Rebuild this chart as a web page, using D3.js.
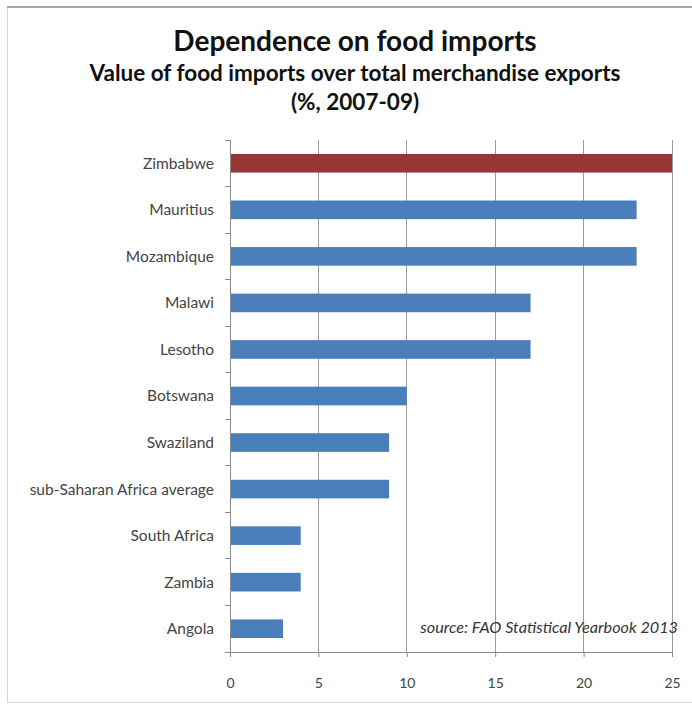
<!DOCTYPE html>
<html>
<head>
<meta charset="utf-8">
<script src="https://cdn.jsdelivr.net/npm/d3@7"></script>
<style>
  html, body { margin: 0; padding: 0; background: #fff; }
  svg { display: block; font-family: Lato, "Open Sans", sans-serif; }
</style>
</head>
<body>
<svg id="chart" width="692" height="707"></svg>
<script>
// Countries, top to bottom, with food imports as % of merchandise exports
const countries = ["Zimbabwe", "Mauritius", "Mozambique", "Malawi", "Lesotho", "Botswana",
  "Swaziland", "sub-Saharan Africa average", "South Africa", "Zambia", "Angola"];
const values = [25, 23, 23, 17, 17, 10, 9, 9, 4, 4, 3];
const highlighted = ["Zimbabwe"];
const xTicks = [0, 5, 10, 15, 20, 25];

const svg = d3.select("#chart");

// frame
svg.append("rect").attr("x", 7.5).attr("y", 6.5).attr("width", 690).attr("height", 696)
  .attr("fill", "#fff").attr("stroke", "#d4d4d4").attr("stroke-width", 1);
svg.append("line").attr("x1", 7).attr("x2", 692).attr("y1", 7).attr("y2", 7)
  .attr("stroke", "#a8a8a8").attr("stroke-width", 2);

// titles
svg.append("text").attr("x", 355).attr("y", 51).attr("text-anchor", "middle")
  .attr("font-size", 28).attr("font-weight", 700).attr("fill", "#111")
  .text("Dependence on food imports");
svg.append("text").attr("x", 355).attr("y", 81).attr("text-anchor", "middle")
  .attr("font-size", 22.5).attr("font-weight", 700).attr("fill", "#111")
  .text("Value of food imports over total merchandise exports");
svg.append("text").attr("x", 355).attr("y", 110).attr("text-anchor", "middle")
  .attr("font-size", 22.5).attr("font-weight", 700).attr("fill", "#111")
  .text("(%, 2007-09)");

const plotLeft = 230, plotRight = 672, plotTop = 140, plotBottom = 652;

const x = d3.scaleLinear().domain([0, 25]).range([plotLeft, plotRight]);
const y = d3.scaleBand().domain(countries).range([plotTop, plotBottom]).paddingInner(0.6).paddingOuter(0.3);

// vertical gridlines
svg.append("g").selectAll("line").data(xTicks.slice(1)).join("line")
  .attr("x1", d => x(d)).attr("x2", d => x(d))
  .attr("y1", plotTop).attr("y2", plotBottom)
  .attr("stroke", "#9a9a9a").attr("stroke-width", 1).attr("shape-rendering", "crispEdges");

// bars
svg.append("g").selectAll("rect").data(countries).join("rect")
  .attr("x", x(0))
  .attr("y", d => y(d))
  .attr("width", (d, i) => x(values[i]) - x(0))
  .attr("height", y.bandwidth())
  .attr("fill", d => highlighted.includes(d) ? "#973735" : "#4a7ebb");

// x axis
const xAxis = svg.append("g").attr("transform", `translate(0,${plotBottom})`)
  .call(d3.axisBottom(x).tickValues(xTicks).tickSize(5).tickPadding(21).tickSizeOuter(0));
xAxis.select(".domain").attr("stroke", "#8a8a8a");
xAxis.selectAll(".tick line").attr("stroke", "#8a8a8a");
xAxis.selectAll(".tick text").attr("font-size", 14).attr("fill", "#444")
  .attr("font-family", "Lato, sans-serif");

// y axis: category labels, with tick marks between categories
const yAxisG = svg.append("g");
yAxisG.append("line").attr("x1", plotLeft).attr("x2", plotLeft).attr("y1", plotTop).attr("y2", plotBottom)
  .attr("stroke", "#8a8a8a").attr("shape-rendering", "crispEdges");
yAxisG.selectAll("line.sep").data(d3.range(countries.length + 1)).join("line")
  .attr("class", "sep")
  .attr("x1", plotLeft - 5).attr("x2", plotLeft)
  .attr("y1", i => plotTop + i * (plotBottom - plotTop) / countries.length)
  .attr("y2", i => plotTop + i * (plotBottom - plotTop) / countries.length)
  .attr("stroke", "#8a8a8a").attr("shape-rendering", "crispEdges");
yAxisG.selectAll("text").data(countries).join("text")
  .attr("x", plotLeft - 16)
  .attr("y", d => y(d) + y.bandwidth() / 2)
  .attr("dy", "0.35em")
  .attr("text-anchor", "end")
  .attr("font-size", 15.5).attr("fill", "#444")
  .text(d => d);

// source note
svg.append("text").attr("x", 678).attr("y", 633).attr("text-anchor", "end")
  .attr("font-size", 16.2).attr("font-style", "italic").attr("fill", "#333")
  .text("source: FAO Statistical  Yearbook 2013");
</script>
</body>
</html>
